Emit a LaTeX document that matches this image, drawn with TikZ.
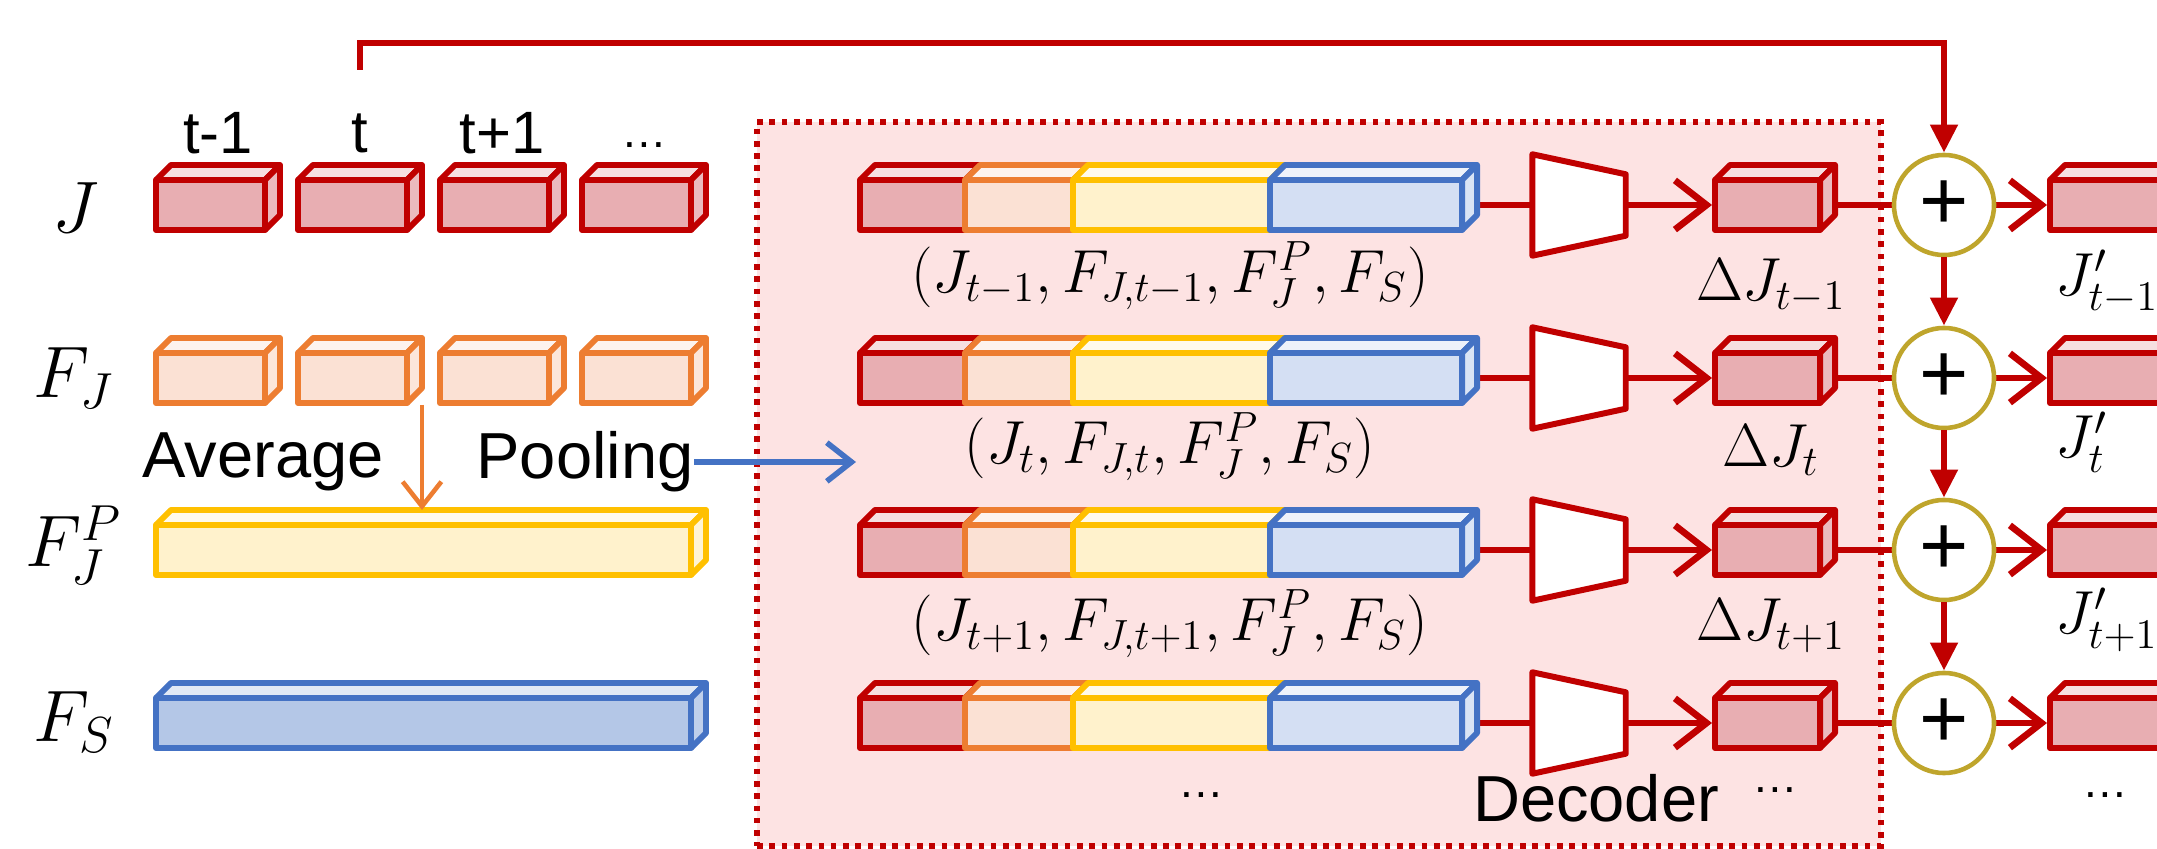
\documentclass[tikz,border=0pt]{standalone}
\usepackage{fontspec}
\setmainfont{Liberation Sans}
\usetikzlibrary{arrows.meta,fit,calc,backgrounds}
\definecolor{dred}{HTML}{C00000}
\definecolor{jfill}{HTML}{E8AEB2}
\definecolor{oline}{HTML}{ED7D31}
\definecolor{ofill}{HTML}{FBE1D4}
\definecolor{yline}{HTML}{FFC000}
\definecolor{yfill}{HTML}{FFF2CC}
\definecolor{bline}{HTML}{4472C4}
\definecolor{bfill}{HTML}{B4C7E7}
\definecolor{bfilltwo}{HTML}{D4DFF3}
\definecolor{pinkbg}{HTML}{FDE3E3}
\definecolor{gold}{HTML}{BFA52C}
\def\dep{15}
% name, x1, x2 (front face), ytop, ybot (front face), stroke, fill
\newcommand{\cubeseg}[7]{%
  \filldraw[boxline, draw=#6, fill=#7!40!white] (#2,#4) -- (#2+\dep,#4-\dep) -- (#3+\dep,#4-\dep) -- (#3,#4) -- cycle;
  \node[fit={(#2,#4) (#3,#5)}, inner sep=0pt, draw=#6, fill=#7, boxline] (#1) {};}
\newcommand{\cube}[7]{%
  \cubeseg{#1}{#2}{#3}{#4}{#5}{#6}{#7}%
  \filldraw[boxline, draw=#6, fill=#7!85!white] (#3,#4) -- (#3+\dep,#4-\dep) -- (#3+\dep,#5-\dep) -- (#3,#5) -- cycle;}
\begin{document}
\begin{tikzpicture}[x=0.01cm,y=-0.01cm,
  boxline/.style={line width=1.7pt, line join=round},
  conn/.style={draw=dred, line width=1.9pt},
  openarrow/.style={-{Straight Barb[length=9pt,width=14pt]}},
  fillarrow/.style={-{Triangle[length=8pt,width=7.5pt]}},
  mathlab/.style={font=\fontsize{20}{24}\selectfont, inner sep=0pt},
  tuplab/.style={font=\fontsize{17}{20}\selectfont, inner sep=0pt},
  txt/.style={font=\fontsize{18.5}{21}\selectfont, inner sep=0pt},
  tlab/.style={font=\fontsize{17}{20}\selectfont, inner sep=0pt},
  smalldots/.style={font=\fontsize{13}{15}\selectfont, inner sep=0pt},
  plusnode/.style={circle, draw=gold, fill=white, line width=1.3pt, minimum size=1cm, inner sep=0pt, font=\fontsize{24}{26}\selectfont},
]
\useasboundingbox (0,0) rectangle (2157,849);
\begin{scope}[on background layer]
  \fill[white] (0,0) rectangle (2157,849);
  \node[fit={(757,122) (1881,846)}, inner sep=0pt, fill=pinkbg, draw=dred, line width=1.6pt, dash pattern=on 1.6pt off 1.9pt] (decbox) {};
\end{scope}

% left side
\foreach \x [count=\i] in {156,298,440,582} {
  \cube{j\i}{\x}{\x+109}{180}{230}{dred}{jfill}
  \cube{f\i}{\x}{\x+109}{353}{403}{oline}{ofill}
}
\cube{fjp}{156}{691}{525}{575}{yline}{yfill}
\cube{fs}{156}{691}{698}{748}{bline}{bfill}

\node[mathlab] (lJ) at (76,208) {$J$};
\node[mathlab] (lFJ) at (74,378) {$F_J$};
\node[mathlab] (lFJP) at (74,545) {$F_J^P$};
\node[mathlab] (lFS) at (74,722) {$F_S$};

\node[tlab] (t1) at (218,133) {t-1};
\node[tlab] (t2) at (360,133) {t};
\node[tlab] (t3) at (502,133) {t+1};
\node[smalldots] (t4) at (644,145) {\ldots};

\node[txt] (avg) at (263,462) {Average};
\node[txt] (pool) at (585,462) {Pooling};
\coordinate (avgs) at (422,405);
\coordinate (avge) at (422,510);
\draw[oline, line width=1.3pt, -{Straight Barb[length=7pt,width=11pt]}] (avgs) -- (avge);
\coordinate (pooltip) at (856,462);
\draw[bline, line width=1.6pt, -{Straight Barb[length=7pt,width=11pt]}] (pool.east) -- (pooltip);

% decoder rows
\foreach \L [count=\i] in {205,378,550,723} {
  \cubeseg{r\i}{860}{965}{\L-25}{\L+25}{dred}{jfill}
  \cubeseg{o\i}{965}{1073}{\L-25}{\L+25}{oline}{ofill}
  \cubeseg{y\i}{1073}{1270}{\L-25}{\L+25}{yline}{yfill}
  \cube{b\i}{1270}{1462}{\L-25}{\L+25}{bline}{bfilltwo}
  \node[minimum width=0.92cm, minimum height=1cm, inner sep=0pt] (dec\i) at (1579,\L) {};
  \filldraw[dred, fill=white, boxline] (dec\i.north west) -- ([yshift=-0.2cm]dec\i.north east) -- ([yshift=0.2cm]dec\i.south east) -- (dec\i.south west) -- cycle;
  \cube{dj\i}{1715}{1820}{\L-25}{\L+25}{dred}{jfill}
  \node[plusnode] (c\i) at (1944,\L) {+};
  \cube{jp\i}{2050}{2160}{\L-25}{\L+25}{dred}{jfill}
  \begin{scope}[on background layer]
    \draw[conn] (b\i.east) -- (dec\i.west);
    \draw[conn, openarrow] (dec\i.east) -- (dj\i.west);
    \draw[conn] (dj\i.east) -- (c\i.west);
    \draw[conn, openarrow] (c\i.east) -- (jp\i.west);
  \end{scope}
}
\draw[conn, fillarrow] (c1) -- (c2);
\draw[conn, fillarrow] (c2) -- (c3);
\draw[conn, fillarrow] (c3) -- (c4);

\coordinate (tstart) at (360,70);
\draw[conn, fillarrow] (tstart) -- ++(0,-27) -| (c1.north);

\node[tuplab] (tp1) at (1170,276) {$(J_{t-1},F_{J,t-1},F^P_J,F_S)$};
\node[tuplab] (tp2) at (1170,447) {$(J_{t},F_{J,t},F^P_J,F_S)$};
\node[tuplab] (tp3) at (1170,624) {$(J_{t+1},F_{J,t+1},F^P_J,F_S)$};
\node[smalldots] (dd1) at (1201,795) {\ldots};

\node[tuplab] (dl1) at (1771,286) {$\Delta J_{t-1}$};
\node[tuplab] (dl2) at (1771,450) {$\Delta J_{t}$};
\node[tuplab] (dl3) at (1771,626) {$\Delta J_{t+1}$};
\node[txt] (decl) at (1596,798) {Decoder};
\node[smalldots] (dd2) at (1775,790) {\ldots};

\node[tuplab, anchor=west] (jl1) at (2055,282) {$J'_{t-1}$};
\node[tuplab, anchor=west] (jl2) at (2055,442) {$J'_{t}$};
\node[tuplab, anchor=west] (jl3) at (2055,620) {$J'_{t+1}$};
\node[smalldots] (dd3) at (2105,795) {\ldots};
\end{tikzpicture}
\end{document}
